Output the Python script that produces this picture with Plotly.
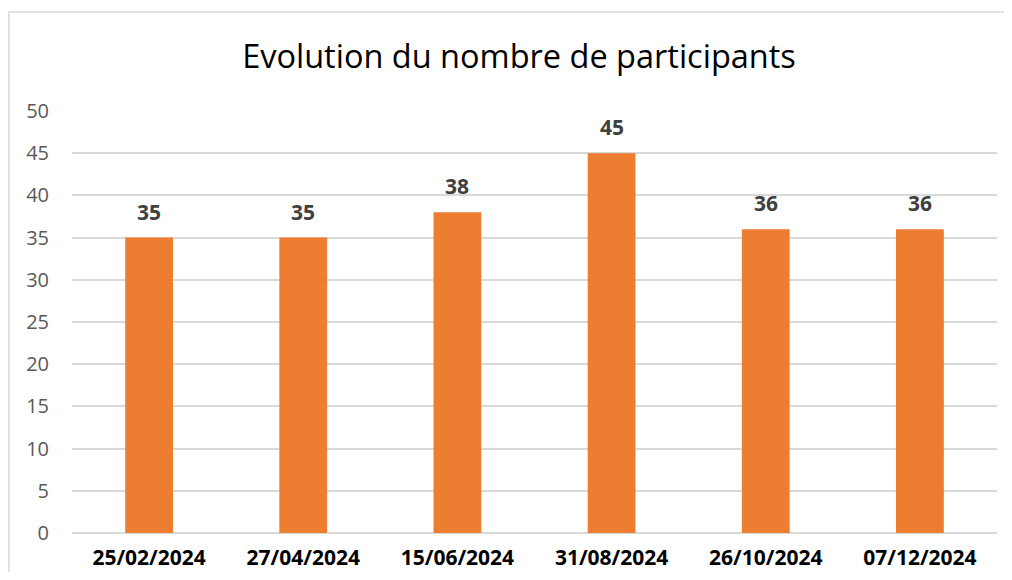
import plotly.graph_objects as go

# Data
dates = ['25/02/2024', '27/04/2024', '15/06/2024', '31/08/2024', '26/10/2024', '07/12/2024']
participants = [35, 35, 38, 45, 36, 36]
y_ticks = [0, 5, 10, 15, 20, 25, 30, 35, 40, 45, 50]

# page has an 8px body margin, so keep the figure inside the window (no scrollbars)
W, H = 996, 564
L, R, T, B = 64, 7, 103, 39
pw, ph = W - L - R, H - T - B

fig = go.Figure()

fig.add_trace(go.Bar(
    x=dates, y=participants,
    marker=dict(color='#ED7D31', line=dict(width=0)),
    hoverinfo='x+y'
))

# data labels above the bars
for d, v in zip(dates, participants):
    fig.add_annotation(
        x=d, y=v, text=f"<b>{v}</b>", showarrow=False,
        yanchor='middle', yshift=26,
        font=dict(family='Open Sans', size=21, color='#404040')
    )

# outer chart border: only the top and left edges are inside the picture
bx0, bx1 = (1 - L) / pw, (W + 20 - L) / pw
by0, by1 = -(B + 30) / ph, (ph + T - 4) / ph
fig.add_shape(
    type='path', xref='paper', yref='paper',
    path=f"M {bx1},{by1} L {bx0},{by1} L {bx0},{by0}",
    line=dict(color='#D9D9D9', width=1.5), layer='below'
)

fig.update_layout(
    width=W, height=H,
    margin=dict(l=L, r=R, t=T, b=B),
    paper_bgcolor='white', plot_bgcolor='white',
    title=dict(text='Evolution du nombre de participants', xref='container', x=511 / W,
               xanchor='center', y=1 - 49 / H, yanchor='middle',
               font=dict(family='Open Sans', size=32.5, color='#000000')),
    bargap=0.69,
    showlegend=False,
    font=dict(family='Open Sans'),
)

fig.update_xaxes(
    tickfont=dict(family='Open Sans', size=21, color='#000000', weight='bold'),
    showgrid=False, showline=False, ticks='', ticklabelstandoff=10, automargin=False
)
fig.update_yaxes(
    range=[0, 50], tickvals=y_ticks,
    tickfont=dict(family='Open Sans', size=20, color='#595959'),
    showgrid=True, gridcolor='#D9D9D9', gridwidth=1.5,
    zeroline=True, zerolinecolor='#D9D9D9', zerolinewidth=1.5,
    showline=False, ticks='', ticklabelstandoff=22, automargin=False
)

fig.write_html("out.html")
